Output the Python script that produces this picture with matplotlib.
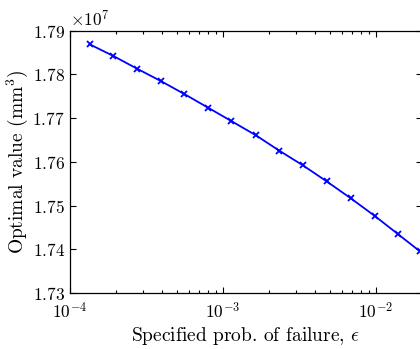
import matplotlib
matplotlib.use("Agg")
import matplotlib.pyplot as plt
from matplotlib.ticker import ScalarFormatter, LogLocator

plt.rcParams['font.family'] = 'serif'
plt.rcParams['font.serif'] = ['cmr10']
plt.rcParams['mathtext.fontset'] = 'cm'
plt.rcParams['axes.formatter.use_mathtext'] = True
plt.rcParams['axes.unicode_minus'] = False

# specified probability of failure and the resulting optimal volume
eps = [1.35e-4, 1.93e-4, 2.76e-4, 3.94e-4, 5.62e-4, 8.04e-4, 1.14e-3,
       1.64e-3, 2.35e-3, 3.35e-3, 4.79e-3, 6.90e-3, 9.85e-3, 1.40e-2, 1.94e-2]
opt_val = [1.78687e7, 1.78419e7, 1.78128e7, 1.77847e7, 1.77549e7, 1.77236e7,
           1.76931e7, 1.76611e7, 1.76252e7, 1.75918e7, 1.75551e7, 1.75162e7,
           1.74764e7, 1.74346e7, 1.73957e7]
yticks = [1.73e7, 1.74e7, 1.75e7, 1.76e7, 1.77e7, 1.78e7, 1.79e7]

fig = plt.figure(figsize=(4.2, 3.49), dpi=100)
ax = fig.add_axes([0.166, 0.1605, 0.838, 0.7518])

ax.plot(eps, opt_val, color='#0000ff', linewidth=1.3,
        marker='x', markersize=4.5, markeredgewidth=1.3)

ax.set_xscale('log')
ax.set_xlim(1e-4, 2e-2)
ax.set_ylim(1.73e7, 1.79e7)
ax.set_yticks(yticks)
fmt = ScalarFormatter(useMathText=True)
fmt.set_useOffset(False)
fmt.set_powerlimits((0, 0))
ax.yaxis.set_major_formatter(fmt)
ax.xaxis.set_minor_locator(LogLocator(base=10, subs=range(2, 10)))

ax.tick_params(which='both', direction='in', top=True, right=True,
               labelsize=12.5, width=0.8)
ax.tick_params(which='major', length=4.5)
ax.tick_params(axis='y', pad=3.5)
ax.tick_params(axis='x', pad=5.5)
ax.tick_params(which='minor', length=2.5)
ax.yaxis.get_offset_text().set_fontsize(12.5)
for s in ax.spines.values():
    s.set_linewidth(0.9)

ax.set_xlabel(r'Specified prob. of failure, $\epsilon$', fontsize=14, labelpad=3)
ax.set_ylabel(r'Optimal value (mm$^3$)', fontsize=14, labelpad=1.5)

fig.savefig('out.png', dpi=100)
